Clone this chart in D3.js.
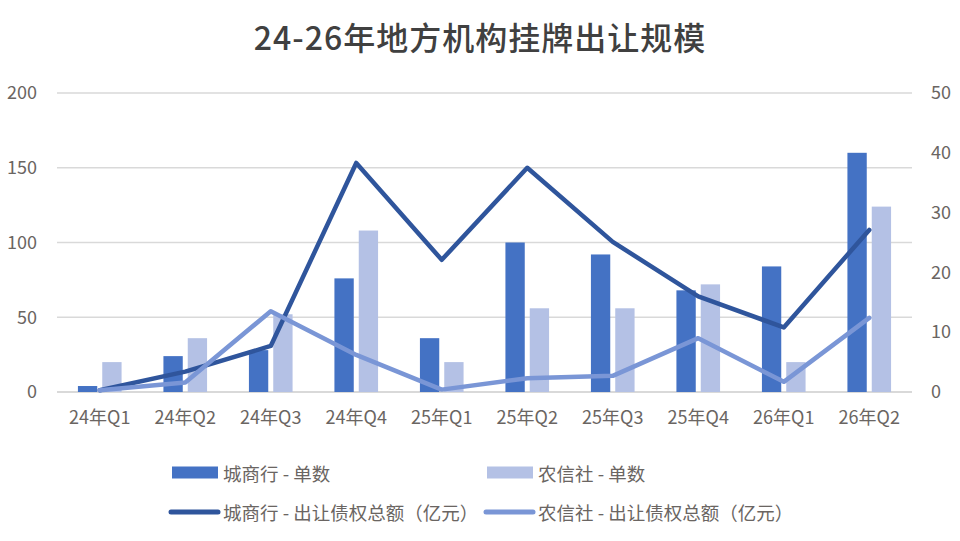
<!DOCTYPE html>
<html><head><meta charset="utf-8">
<script src="https://cdn.jsdelivr.net/npm/d3@7"></script>
<style>html,body{margin:0;padding:0;background:#fff;}svg{display:block;font-family:"Noto Sans CJK SC","Noto Sans",sans-serif;}</style>
</head><body>
<svg id="c" width="960" height="541"></svg>
<script>
const categories = ["24年Q1","24年Q2","24年Q3","24年Q4","25年Q1","25年Q2","25年Q3","25年Q4","26年Q1","26年Q2"];
const cityCount = [4,24,28,76,36,100,92,68,84,160];
const ruralCount = [20,36,52,108,20,56,56,72,20,124];
const cityAmount = [0.3,3.4,7.7,38.3,22.1,37.5,25.1,16.0,10.8,27.1];
const ruralAmount = [0.3,1.6,13.5,6.2,0.4,2.3,2.7,9.0,1.7,12.4];
const leftTicks = [0,50,100,150,200];
const rightTicks = [0,10,20,30,40,50];
const seriesNames = ["城商行 - 单数","农信社 - 单数","城商行 - 出让债权总额（亿元）","农信社 - 出让债权总额（亿元）"];
const title = "24-26年地方机构挂牌出让规模";

const C = {cityBar:"#4472C4", ruralBar:"#B4C1E5", cityLine:"#2F559C", ruralLine:"#7A96D6", grid:"#D9D9D9", text:"#6A6562", title:"#404040"};

const svg = d3.select("#c");
const L = 57, R = 912, T = 93, B = 392;
const x = d3.scaleBand().domain(categories).range([L,R]);
const yL = d3.scaleLinear().domain([0,200]).range([B,T]);
const yR = d3.scaleLinear().domain([0,50]).range([B,T]);

svg.append("text").attr("x",480).attr("y",36).attr("text-anchor","middle").attr("dominant-baseline","central")
  .attr("font-size",32).attr("font-weight",500).attr("letter-spacing",1).attr("fill",C.title).text(title);

// gridlines
svg.append("g").selectAll("line").data(leftTicks).join("line")
  .attr("x1",L).attr("x2",R).attr("y1",d=>yL(d)).attr("y2",d=>yL(d))
  .attr("stroke",C.grid).attr("stroke-width",d=>d===0?2:1.5);

// left axis
const gl = svg.append("g").attr("transform",`translate(${L-20},0)`)
  .call(d3.axisLeft(yL).tickValues(leftTicks).tickSize(0).tickPadding(0));
gl.select(".domain").remove();
gl.selectAll("text").attr("font-size",18).attr("fill",C.text).attr("font-family","'Noto Sans CJK SC'");

const gr = svg.append("g").attr("transform",`translate(${R+19},0)`)
  .call(d3.axisRight(yR).tickValues(rightTicks).tickSize(0).tickPadding(0));
gr.select(".domain").remove();
gr.selectAll("text").attr("font-size",18).attr("fill",C.text).attr("font-family","'Noto Sans CJK SC'");

const gx = svg.append("g").attr("transform",`translate(0,${B+22})`)
  .call(d3.axisBottom(x).tickSize(0).tickPadding(0));
gx.select(".domain").remove();
gx.selectAll("text").attr("font-size",18).attr("fill",C.text).attr("dy","0.55em").attr("font-family","'Noto Sans CJK SC'");

// bars
const bw = x.bandwidth()*0.226, gap = 5;
svg.append("g").selectAll("rect").data(cityCount).join("rect")
  .attr("x",(d,i)=>x(categories[i])+x.bandwidth()/2-gap/2-bw).attr("width",bw)
  .attr("y",d=>yL(d)).attr("height",d=>B-yL(d)).attr("fill",C.cityBar);
svg.append("g").selectAll("rect").data(ruralCount).join("rect")
  .attr("x",(d,i)=>x(categories[i])+x.bandwidth()/2+gap/2).attr("width",bw)
  .attr("y",d=>yL(d)).attr("height",d=>B-yL(d)).attr("fill",C.ruralBar);

// lines
const line = d3.line().x((d,i)=>x(categories[i])+x.bandwidth()/2).y(d=>yR(d));
svg.append("path").datum(cityAmount).attr("d",line).attr("fill","none").attr("stroke",C.cityLine)
  .attr("stroke-width",4.5).attr("stroke-linejoin","round").attr("stroke-linecap","round");
svg.append("path").datum(ruralAmount).attr("d",line).attr("fill","none").attr("stroke",C.ruralLine)
  .attr("stroke-width",4.5).attr("stroke-linejoin","round").attr("stroke-linecap","round");

// legend
const lg = svg.append("g");
const legendItems = [
  {name:seriesNames[0], type:"rect", color:C.cityBar, x:172, y:472.5},
  {name:seriesNames[1], type:"rect", color:C.ruralBar, x:487, y:472.5},
  {name:seriesNames[2], type:"line", color:C.cityLine, x:172, y:512},
  {name:seriesNames[3], type:"line", color:C.ruralLine, x:487, y:512}
];
legendItems.forEach(it=>{
  if(it.type==="rect"){
    lg.append("rect").attr("x",it.x).attr("y",it.y-6).attr("width",46).attr("height",12).attr("fill",it.color);
  } else {
    lg.append("line").attr("x1",it.x-1).attr("x2",it.x+46).attr("y1",it.y).attr("y2",it.y)
      .attr("stroke",it.color).attr("stroke-width",5).attr("stroke-linecap","round");
  }
  lg.append("text").attr("x",it.x+51).attr("y",it.y).attr("dominant-baseline","central")
    .attr("font-size",18.5).attr("fill",C.text).text(it.name);
});
</script>
</body></html>
